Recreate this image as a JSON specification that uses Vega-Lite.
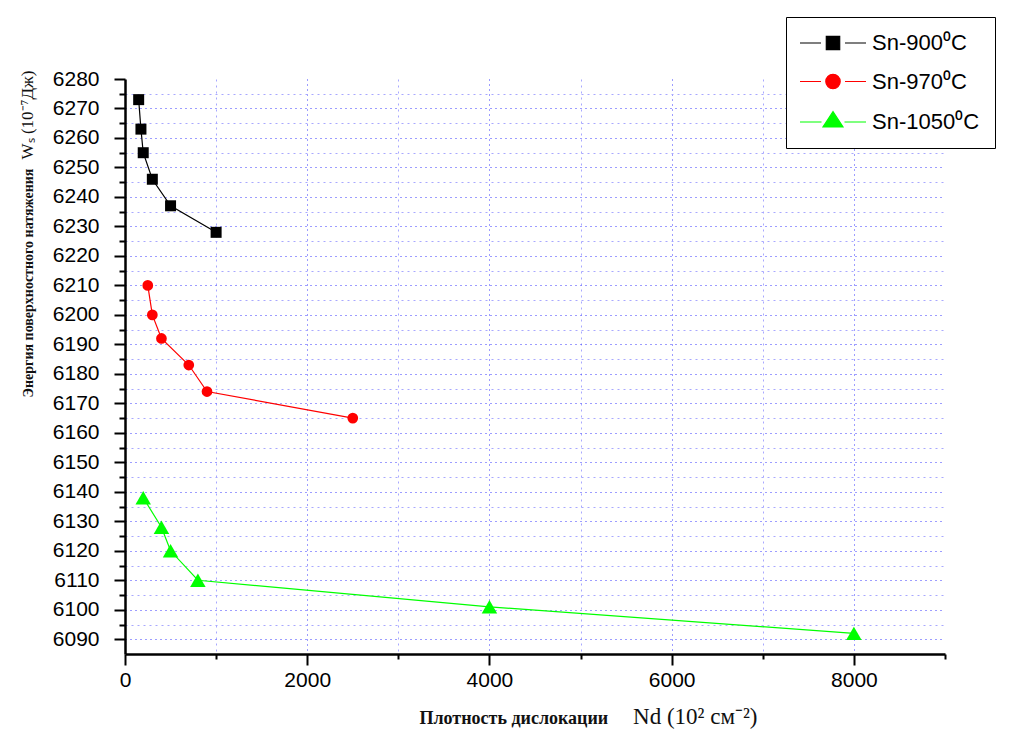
{
  "$schema": "https://vega.github.io/schema/vega-lite/v6.json",
  "width": 820,
  "height": 575,
  "padding": {"left": 17, "top": 16, "right": 5, "bottom": 5},
  "background": "white",
  "config": {"view": {"stroke": null}},
  "data": {
    "values": [
      {"series": "Sn-900⁰C", "N": 150, "W": 6273},
      {"series": "Sn-900⁰C", "N": 175, "W": 6263},
      {"series": "Sn-900⁰C", "N": 200, "W": 6255},
      {"series": "Sn-900⁰C", "N": 300, "W": 6246},
      {"series": "Sn-900⁰C", "N": 500, "W": 6237},
      {"series": "Sn-900⁰C", "N": 1000, "W": 6228},
      {"series": "Sn-970⁰C", "N": 250, "W": 6210},
      {"series": "Sn-970⁰C", "N": 300, "W": 6200},
      {"series": "Sn-970⁰C", "N": 400, "W": 6192},
      {"series": "Sn-970⁰C", "N": 700, "W": 6183},
      {"series": "Sn-970⁰C", "N": 900, "W": 6174},
      {"series": "Sn-970⁰C", "N": 2500, "W": 6165},
      {"series": "Sn-1050⁰C", "N": 200, "W": 6138},
      {"series": "Sn-1050⁰C", "N": 400, "W": 6128},
      {"series": "Sn-1050⁰C", "N": 500, "W": 6120},
      {"series": "Sn-1050⁰C", "N": 800, "W": 6110},
      {"series": "Sn-1050⁰C", "N": 4000, "W": 6101},
      {"series": "Sn-1050⁰C", "N": 8000, "W": 6092}
    ]
  },
  "resolve": {"axis": {"x": "independent", "y": "independent"}},
  "layer": [
    {
      "encoding": {
        "x": {
          "field": "N",
          "type": "quantitative",
          "scale": {"domain": [0, 9000], "nice": false, "zero": false},
          "axis": {
            "values": [0, 1000, 2000, 3000, 4000, 5000, 6000, 7000, 8000, 9000],
            "format": "d",
            "labelExpr": "datum.value % 2000 === 0 ? datum.label : ''",
            "labelFont": "Liberation Sans",
            "labelFontSize": 21,
            "labelColor": "#000000",
            "labelPadding": 4,
            "labelFlush": false,
            "labelOverlap": false,
            "domainColor": "#000000",
            "domainWidth": 2.5,
            "tickColor": "#000000",
            "tickWidth": 2,
            "tickSize": {"condition": {"test": "datum.value % 2000 === 0", "value": 11}, "value": 5},
            "grid": true,
            "gridWidth": 1,
            "gridColor": {"condition": {"test": "datum.value % 2000 === 0", "value": "#3a3aff"}, "value": "#a8a8ff"},
            "gridDash": {"condition": {"test": "datum.value % 2000 === 0", "value": [1, 4]}, "value": [2, 4]},
            "gridOpacity": {"condition": {"test": "datum.value <= 0 || datum.value >= 9000", "value": 0}, "value": 1},
            "title": "Плотность дислокации",
            "titleFont": "Liberation Serif",
            "titleFontWeight": "bold",
            "titleFontSize": 18,
            "titleColor": "#111111",
            "titleX": 294,
            "titleY": 69,
            "titleAlign": "left",
            "titleBaseline": "alphabetic"
          }
        },
        "y": {
          "field": "W",
          "type": "quantitative",
          "scale": {"domain": [6085, 6280], "nice": false, "zero": false},
          "axis": {
            "values": [6280, 6275, 6270, 6265, 6260, 6255, 6250, 6245, 6240, 6235, 6230, 6225, 6220, 6215, 6210, 6205, 6200, 6195, 6190, 6185, 6180, 6175, 6170, 6165, 6160, 6155, 6150, 6145, 6140, 6135, 6130, 6125, 6120, 6115, 6110, 6105, 6100, 6095, 6090],
            "format": "d",
            "labelExpr": "datum.value % 10 === 0 ? datum.label : ''",
            "labelFont": "Liberation Sans",
            "labelFontSize": 21,
            "labelColor": "#000000",
            "labelPadding": 15,
            "labelFlush": false,
            "labelOverlap": false,
            "domainColor": "#000000",
            "domainWidth": 2.5,
            "tickColor": "#000000",
            "tickWidth": 2,
            "tickSize": {"condition": {"test": "datum.value % 10 === 0", "value": 11}, "value": 6},
            "grid": true,
            "gridWidth": 1,
            "gridColor": {"condition": {"test": "datum.value % 10 === 0", "value": "#3a3aff"}, "value": "#a8a8ff"},
            "gridDash": {"condition": {"test": "datum.value % 10 === 0", "value": [1, 4]}, "value": [2, 4]},
            "gridOpacity": {"condition": {"test": "datum.value >= 6280", "value": 0}, "value": 1},
            "title": "Энергия поверхностного натяжения",
            "titleFont": "Liberation Serif",
            "titleFontWeight": "bold",
            "titleFontSize": 14,
            "titleColor": "#111111",
            "titleAngle": -90,
            "titleX": -93,
            "titleY": 318,
            "titleAlign": "left",
            "titleBaseline": "alphabetic"
          }
        }
      },
      "layer": [
        {
          "mark": {"type": "line", "strokeWidth": 1.2},
          "encoding": {
            "color": {
              "field": "series",
              "type": "nominal",
              "scale": {"domain": ["Sn-900⁰C", "Sn-970⁰C", "Sn-1050⁰C"], "range": ["#000000", "#ff0000", "#00ff00"]},
              "legend": {
                "title": null,
                "orient": "none",
                "legendX": 661,
                "legendY": -62,
                "padding": 15,
                "strokeColor": "#000000",
                "fillColor": "#ffffff",
                "symbolSize": 400,
                "symbolOpacity": 1,
                "symbolStrokeWidth": 1.2,
                "labelFont": "Liberation Sans",
                "labelFontSize": 22,
                "labelColor": "#000000",
                "labelOffset": 49,
                "rowPadding": 16.5
              }
            }
          }
        },
        {
          "transform": [{"filter": {"field": "series", "equal": "Sn-900⁰C"}}],
          "mark": {"type": "point", "shape": "square", "filled": true, "size": 121, "opacity": 1, "color": "#000000"}
        },
        {
          "transform": [{"filter": {"field": "series", "equal": "Sn-970⁰C"}}],
          "mark": {"type": "point", "shape": "circle", "filled": true, "size": 115, "opacity": 1, "color": "#ff0000"}
        },
        {
          "transform": [{"filter": {"field": "series", "equal": "Sn-1050⁰C"}}],
          "mark": {"type": "point", "shape": "triangle-up", "filled": true, "size": 240, "opacity": 1, "color": "#00ff00"}
        }
      ]
    },
    {
      "mark": {"type": "point", "filled": true, "opacity": 0, "size": 400},
      "encoding": {
        "x": {
          "field": "N",
          "type": "quantitative",
          "axis": {
            "orient": "top",
            "domain": false,
            "ticks": false,
            "labels": false,
            "grid": false,
            "title": "Nd (10² см⁻²)",
            "titleFont": "Liberation Serif",
            "titleFontWeight": "normal",
            "titleFontSize": 23,
            "titleColor": "#111111",
            "titleX": 632,
            "titleY": 644,
            "titleAlign": "right",
            "titleBaseline": "alphabetic"
          }
        },
        "y": {
          "field": "W",
          "type": "quantitative",
          "axis": {
            "orient": "right",
            "domain": false,
            "ticks": false,
            "labels": false,
            "grid": false,
            "title": "Wₛ (10⁻⁷Дж)",
            "titleFont": "Liberation Serif",
            "titleFontWeight": "normal",
            "titleFontSize": 17,
            "titleColor": "#111111",
            "titleAngle": -90,
            "titleX": -913,
            "titleY": -9,
            "titleAlign": "right",
            "titleBaseline": "alphabetic"
          }
        },
        "color": {
          "field": "series",
          "type": "nominal",
          "legend": {
            "title": null,
            "orient": "none",
            "legendX": 661,
            "legendY": -62,
            "padding": 15,
            "strokeColor": "#000000",
            "fillColor": "#ffffff",
            "symbolSize": 400,
            "symbolOpacity": 1,
            "symbolStrokeWidth": 1.2,
            "labelFont": "Liberation Sans",
            "labelFontSize": 22,
            "labelColor": "#000000",
            "labelOffset": 49,
            "rowPadding": 16.5
          }
        },
        "shape": {
          "field": "series",
          "type": "nominal",
          "scale": {
            "domain": ["Sn-900⁰C", "Sn-970⁰C", "Sn-1050⁰C"],
            "range": [
              "M-1.2,0H0.9M3.3,0H5.4M1.43,-0.67H2.77V0.67H1.43Z",
              "M-1.2,0H0.9M3.3,0H5.4M2.82,0A0.72,0.72,0,1,1,1.38,0A0.72,0.72,0,1,1,2.82,0Z",
              "M-1.2,0H0.95M3.25,0H5.4M2.1,-1.03L3.1,0.5L1.1,0.5Z"
            ]
          },
          "legend": {
            "title": null,
            "orient": "none",
            "legendX": 661,
            "legendY": -62,
            "padding": 15,
            "strokeColor": "#000000",
            "fillColor": "#ffffff",
            "symbolSize": 400,
            "symbolOpacity": 1,
            "symbolStrokeWidth": 1.2,
            "labelFont": "Liberation Sans",
            "labelFontSize": 22,
            "labelColor": "#000000",
            "labelOffset": 49,
            "rowPadding": 16.5
          }
        }
      }
    }
  ]
}
